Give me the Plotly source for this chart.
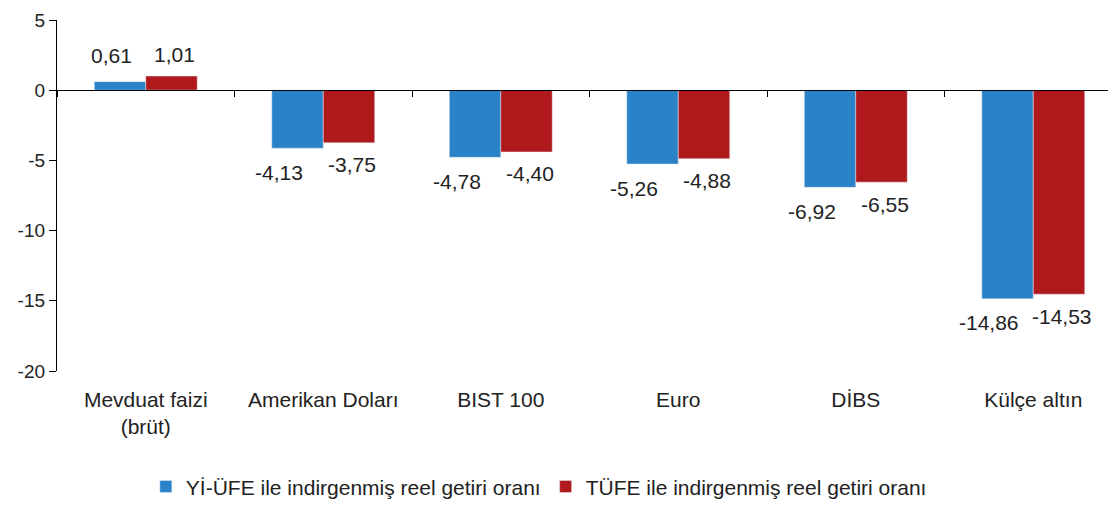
import plotly.graph_objects as go

categories = ["Mevduat faizi<br>(brüt)", "Amerikan Doları", "BIST 100", "Euro", "DİBS", "Külçe altın"]
yi_ufe = [0.61, -4.13, -4.78, -5.26, -6.92, -14.86]
tufe = [1.01, -3.75, -4.40, -4.88, -6.55, -14.53]
series_names = ["Yİ-ÜFE ile indirgenmiş reel getiri oranı", "TÜFE ile indirgenmiş reel getiri oranı"]
y_ticks = [5, 0, -5, -10, -15, -20]

blue = "#2a82c8"
red = "#b0191c"
txt = "#222222"
font_family = "Liberation Sans, Arial, sans-serif"


def fmt(v):
    return f"{v:.2f}".replace(".", ",")


fig = go.Figure()
fig.add_trace(go.Bar(x=categories, y=yi_ufe, name=series_names[0], marker_color=blue))
fig.add_trace(go.Bar(x=categories, y=tufe, name=series_names[1], marker_color=red))
# invisible trace to carry the zero-line category axis
fig.add_trace(go.Scatter(x=categories, y=[0] * len(categories), xaxis="x2", mode="markers",
                         marker=dict(opacity=0), showlegend=False, hoverinfo="skip"))

annotations = []
for c, v in zip(categories, yi_ufe):
    annotations.append(dict(x=c, y=v, text=fmt(v), showarrow=False,
                            xshift=-34 if v >= 0 else -44, yshift=26 if v >= 0 else -24,
                            font=dict(size=21, color=txt)))
for c, v in zip(categories, tufe):
    annotations.append(dict(x=c, y=v, text=fmt(v), showarrow=False,
                            xshift=29, yshift=22 if v >= 0 else -22,
                            font=dict(size=21, color=txt)))

xr = [-0.5, 5.466]
fig.update_layout(
    width=1116, height=509,
    margin=dict(l=49, r=8, t=12, b=146),
    plot_bgcolor="white", paper_bgcolor="white",
    font=dict(size=20, family=font_family, color=txt),
    barmode="group", bargap=0.42, bargroupgap=0,
    annotations=annotations,
    xaxis=dict(range=xr, showline=False, ticks="", showgrid=False, automargin=False,
               tickfont=dict(size=21), ticklabelstandoff=14),
    xaxis2=dict(range=xr, overlaying="x", anchor="free", position=0.8, side="bottom",
                showline=True, linecolor="black", linewidth=1.3, ticks="outside",
                tickson="boundaries", ticklen=6, tickcolor="black", showticklabels=False,
                showgrid=False, type="category", automargin=False),
    yaxis=dict(range=[-20, 5], tickvals=y_ticks, ticktext=[str(t) for t in y_ticks],
               showline=True, linecolor="black", linewidth=1.3, automargin=False,
               ticks="outside", ticklen=7, tickcolor="black", showgrid=False, zeroline=False,
               tickfont=dict(size=19), ticklabeloverflow="allow"),
    legend=dict(orientation="h", x=0.455, xanchor="center", y=-0.33, yanchor="middle",
                font=dict(size=21), itemwidth=30, traceorder="normal"),
    showlegend=True,
)
fig.write_html("out.html")
